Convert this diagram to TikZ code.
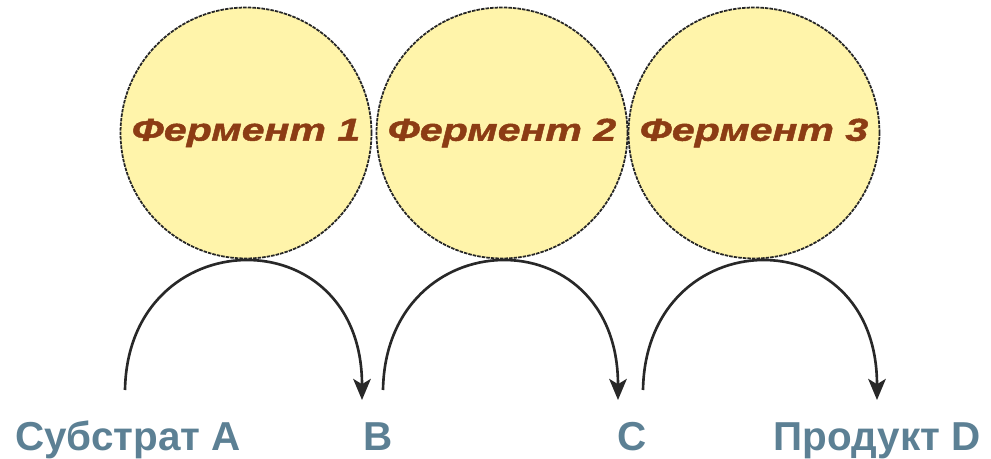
\documentclass[tikz,border=0pt]{standalone}
\usepackage{fontspec}
\setmainfont{Liberation Sans}
\newfontfamily\enzfont[FakeStretch=1.3,FakeBold=1.5]{Liberation Sans}
\usetikzlibrary{arrows.meta}
\definecolor{enzfill}{RGB}{255,244,170}
\definecolor{enztext}{RGB}{140,60,20}
\definecolor{substtext}{RGB}{92,128,148}
\definecolor{arcgray}{RGB}{40,40,40}

\begin{document}
\begin{tikzpicture}[x=0.02cm, y=-0.02cm, line width=1.1pt,
  enzyme/.style={circle, draw=black!85, fill=enzfill, line width=1pt,
    dash pattern=on 2pt off 0.6pt, minimum size=5.02cm, inner sep=0pt,
    font=\enzfont\bfseries\itshape\fontsize{18}{21}\selectfont, text=enztext},
  substance/.style={anchor=base, font=\bfseries\fontsize{23}{27}\selectfont, text=substtext},
  reaction/.style={draw=arcgray, line width=1.5pt, -{Stealth[length=12pt,width=10pt,inset=3pt]}}]
  \useasboundingbox (0,0) rectangle (991,459);
  % enzymes
  \node[enzyme] (enz1) at (246,133) {Фермент 1};
  \node[enzyme] (enz2) at (502,133) {Фермент 2};
  \node[enzyme] (enz3) at (754,133) {Фермент 3};
  % substances
  \node[substance] (subA) at (128,450) {Субстрат A};
  \node[substance] (subB) at (378,450) {B};
  \node[substance] (subC) at (632,450) {C};
  \node[substance] (prodD) at (877,450) {Продукт D};
  % ends of the reaction arcs
  \coordinate (r1s) at (125,390);
  \coordinate (r1e) at (362,400);
  \coordinate (r2s) at (383,390);
  \coordinate (r2e) at (618,400);
  \coordinate (r3s) at (643,390);
  \coordinate (r3e) at (877,400);
  % reactions A -> B -> C -> D
  \draw[reaction] (r1s) .. controls (128,220) and (362,215) .. (r1e);
  \draw[reaction] (r2s) .. controls (386,220) and (618,215) .. (r2e);
  \draw[reaction] (r3s) .. controls (646,220) and (877,215) .. (r3e);
\end{tikzpicture}
\end{document}
